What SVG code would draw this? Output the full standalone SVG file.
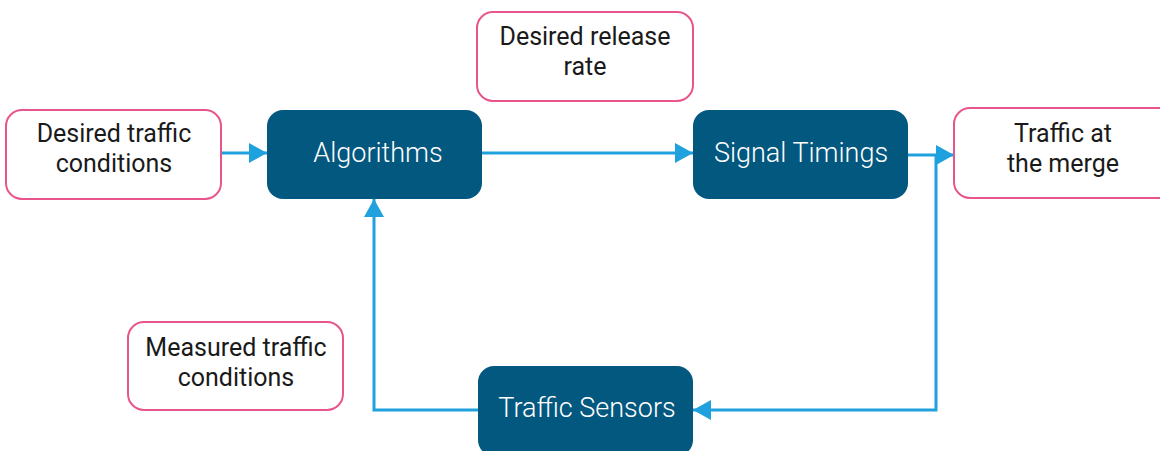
<svg xmlns="http://www.w3.org/2000/svg" width="1160" height="451" viewBox="0 0 1160 451">
  <style>
    .lbl { fill: #ffffff; stroke: #e8558c; stroke-width: 2; }
    .blk { fill: #03587f; }
    .t { font-family: Roboto, "Liberation Sans", sans-serif; font-size: 25px; fill: #1a1a1a; text-anchor: middle; }
    .w { font-family: Roboto, "Liberation Sans", sans-serif; font-size: 27px; font-weight: 300; fill: #ffffff; text-anchor: middle; }
    .c { fill: none; stroke: #1ea1dc; stroke-width: 3; }
  </style>
  <defs>
    <marker id="arr" markerUnits="userSpaceOnUse" markerWidth="18" markerHeight="20" refX="18" refY="10" orient="auto">
      <path d="M0,0 L18,10 L0,20 Z" fill="#1ea1dc"/>
    </marker>
  </defs>
  <rect width="1160" height="451" fill="#ffffff"/>

  <g id="connectors">
    <path class="c" d="M222,153 H267" marker-end="url(#arr)"/>
    <path class="c" d="M482,153 H693" marker-end="url(#arr)"/>
    <path class="c" d="M908,155 H954" marker-end="url(#arr)"/>
    <path class="c" d="M936,155 V410 H693" marker-end="url(#arr)"/>
    <path class="c" d="M478,410 H374 V199" marker-end="url(#arr)"/>
  </g>

  <g id="desired-traffic">
    <rect class="lbl" x="6" y="110" width="215" height="89" rx="16"/>
    <text class="t" x="114" y="142">Desired traffic</text>
    <text class="t" x="114" y="172">conditions</text>
  </g>
  <g id="desired-release">
    <rect class="lbl" x="477" y="12" width="216" height="89" rx="16"/>
    <text class="t" x="585" y="45">Desired release</text>
    <text class="t" x="585" y="75">rate</text>
  </g>
  <g id="traffic-merge">
    <rect class="lbl" x="954" y="108" width="220" height="90" rx="16"/>
    <text class="t" x="1063" y="142">Traffic at</text>
    <text class="t" x="1063" y="172">the merge</text>
  </g>
  <g id="measured-traffic">
    <rect class="lbl" x="128" y="322" width="215" height="88" rx="16"/>
    <text class="t" x="236" y="356">Measured traffic</text>
    <text class="t" x="236" y="386">conditions</text>
  </g>
  <g id="algorithms">
    <rect class="blk" x="267" y="110" width="215" height="89" rx="16"/>
    <text class="w" x="378" y="162">Algorithms</text>
  </g>
  <g id="signal-timings">
    <rect class="blk" x="693" y="110" width="215" height="89" rx="16"/>
    <text class="w" x="801" y="162">Signal Timings</text>
  </g>
  <g id="traffic-sensors">
    <rect class="blk" x="478" y="366" width="215" height="90" rx="16"/>
    <text class="w" x="587" y="417">Traffic Sensors</text>
  </g>
</svg>
